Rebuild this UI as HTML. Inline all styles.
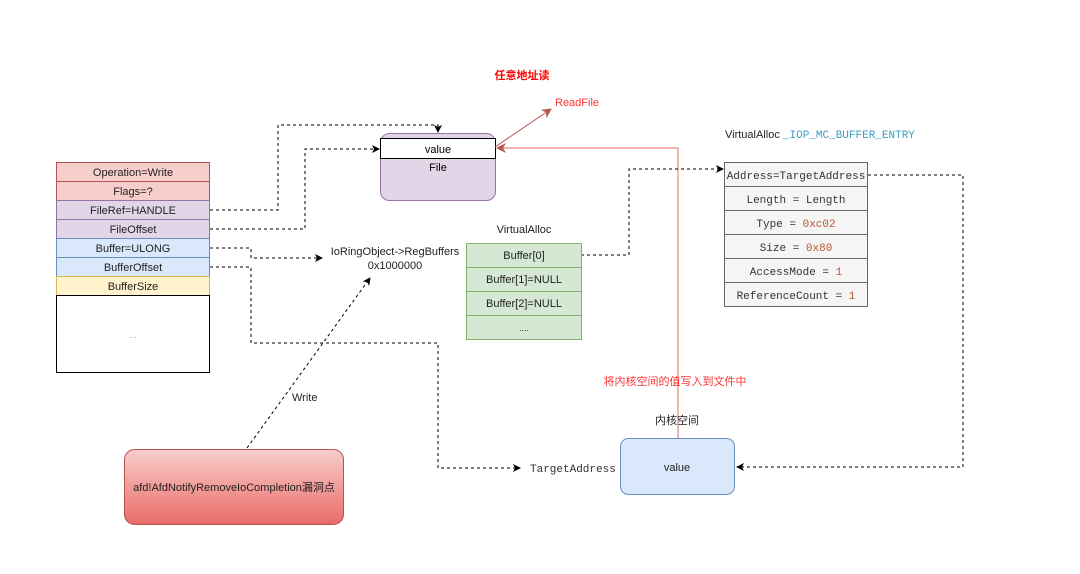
<!DOCTYPE html>
<html><head><meta charset="utf-8"><style>html,body{margin:0;padding:0;background:#fff;width:1080px;height:574px;overflow:hidden}</style></head>
<body>
<svg width="1080" height="574" viewBox="0 0 1080 574" xmlns="http://www.w3.org/2000/svg" font-family="Liberation Sans, Noto Sans CJK SC, sans-serif" font-size="11">
<defs>
<marker id="ab" markerWidth="8" markerHeight="8" refX="7" refY="4" orient="auto" markerUnits="userSpaceOnUse"><path d="M0,0 L8,4 L0,8 L2,4 Z" fill="#000"/></marker>
<marker id="ar" markerWidth="10" markerHeight="10" refX="9" refY="5" orient="auto" markerUnits="userSpaceOnUse"><path d="M0,0 L10,5 L0,10 L3,5 Z" fill="#b85450"/></marker>
<linearGradient id="rg" x1="0" y1="0" x2="0" y2="1"><stop offset="0" stop-color="#f8cecc"/><stop offset="1" stop-color="#ea6b66"/></linearGradient>
</defs>
<g stroke-width="1" text-anchor="middle" fill="#333">
<rect x="56.5" y="162.5" width="153" height="19" fill="#f8cecc" stroke="#b85450"/>
<rect x="56.5" y="181.5" width="153" height="19" fill="#f8cecc" stroke="#b85450"/>
<rect x="56.5" y="200.5" width="153" height="19" fill="#e1d5e7" stroke="#9673a6"/>
<rect x="56.5" y="219.5" width="153" height="19" fill="#e1d5e7" stroke="#9673a6"/>
<rect x="56.5" y="238.5" width="153" height="19" fill="#dae8fc" stroke="#6c8ebf"/>
<rect x="56.5" y="257.5" width="153" height="19" fill="#dae8fc" stroke="#6c8ebf"/>
<rect x="56.5" y="276.5" width="153" height="19" fill="#fff2cc" stroke="#d6b656"/>
<rect x="56.5" y="295.5" width="153" height="77" fill="#fff" stroke="#000"/>
</g>
<g text-anchor="middle" fill="#222">
<text x="133" y="176">Operation=Write</text>
<text x="133" y="195">Flags=?</text>
<text x="133" y="214">FileRef=HANDLE</text>
<text x="133" y="233">FileOffset</text>
<text x="133" y="252">Buffer=ULONG</text>
<text x="133" y="271">BufferOffset</text>
<text x="133" y="290">BufferSize</text>
<text x="133" y="338" font-size="8" fill="#888">...</text>
</g>
<rect x="380.5" y="133.5" width="115" height="67" rx="9" fill="#e1d5e7" stroke="#9673a6"/>
<rect x="380.5" y="138.5" width="115" height="20" fill="#fff" stroke="#000"/>
<text x="438" y="153" text-anchor="middle">value</text>
<text x="438" y="171" text-anchor="middle">File</text>
<polyline points="678,438 678,148 497,148" fill="none" stroke="#ea6b66" stroke-width="1" marker-end="url(#ar)"/>
<line x1="495" y1="147" x2="551" y2="109" stroke="#b85450" marker-end="url(#ar)"/>
<text x="555" y="106" fill="#ff3333" font-size="11">ReadFile</text>
<text x="522" y="79" fill="#ff0000" font-size="11" font-weight="bold" text-anchor="middle">任意地址读</text>
<g fill="none" stroke="#000" stroke-dasharray="3,3">
<polyline points="210,210 278,210 278,125 438,125 438,132" marker-end="url(#ab)"/>
<polyline points="210,229 305,229 305,149 379,149" marker-end="url(#ab)"/>
<polyline points="210,248 251,248 251,258 322,258" marker-end="url(#ab)"/>
<polyline points="210,267 251,267 251,343 438,343 438,468 520,468" marker-end="url(#ab)"/>
<line x1="247" y1="448" x2="370" y2="278" marker-end="url(#ab)"/>
<polyline points="581,255 629,255 629,169 723,169" marker-end="url(#ab)"/>
<polyline points="868,175 963,175 963,467 737,467" marker-end="url(#ab)"/>
</g>
<text x="395" y="255" text-anchor="middle" fill="#222">IoRingObject-&gt;RegBuffers</text>
<text x="395" y="269" text-anchor="middle" fill="#222">0x1000000</text>
<text x="292" y="401" fill="#222">Write</text>
<g fill="#d5e8d4" stroke="#82b366">
<rect x="466.5" y="243.5" width="115" height="24"/>
<rect x="466.5" y="267.5" width="115" height="24"/>
<rect x="466.5" y="291.5" width="115" height="24"/>
<rect x="466.5" y="315.5" width="115" height="24"/>
</g>
<g text-anchor="middle" fill="#222">
<text x="524" y="233">VirtualAlloc</text>
<text x="524" y="259">Buffer[0]</text>
<text x="524" y="283">Buffer[1]=NULL</text>
<text x="524" y="307">Buffer[2]=NULL</text>
<text x="524" y="331" font-size="9">....</text>
</g>
<text x="725" y="138" fill="#222">VirtualAlloc <tspan font-family="Liberation Mono, monospace" font-size="11" fill="#3a9ec2">_IOP_MC_BUFFER_ENTRY</tspan></text>
<g fill="#f5f5f5" stroke="#666">
<rect x="724.5" y="162.5" width="143" height="24"/>
<rect x="724.5" y="186.5" width="143" height="24"/>
<rect x="724.5" y="210.5" width="143" height="24"/>
<rect x="724.5" y="234.5" width="143" height="24"/>
<rect x="724.5" y="258.5" width="143" height="24"/>
<rect x="724.5" y="282.5" width="143" height="24"/>
</g>
<g text-anchor="middle" font-family="Liberation Mono, monospace" font-size="11" fill="#333">
<text x="796" y="179">Address=TargetAddress</text>
<text x="796" y="203">Length = Length</text>
<text x="796" y="227">Type = <tspan fill="#b5562a">0xc02</tspan></text>
<text x="796" y="251">Size = <tspan fill="#b5562a">0x80</tspan></text>
<text x="796" y="275">AccessMode = <tspan fill="#b5562a">1</tspan></text>
<text x="796" y="299">ReferenceCount = <tspan fill="#b5562a">1</tspan></text>
</g>
<text x="675" y="385" text-anchor="middle" fill="#ff3333">将内核空间的值写入到文件中</text>
<text x="677" y="424" text-anchor="middle" fill="#222">内核空间</text>
<rect x="620.5" y="438.5" width="114" height="56" rx="8" fill="#dae8fc" stroke="#6c8ebf"/>
<text x="677" y="471" text-anchor="middle" fill="#222">value</text>
<text x="530" y="472" font-family="Liberation Mono, monospace" font-size="11" fill="#333">TargetAddress</text>
<rect x="124.5" y="449.5" width="219" height="75" rx="10" fill="url(#rg)" stroke="#b85450"/>
<text x="234" y="491" text-anchor="middle" fill="#222">afd!AfdNotifyRemoveIoCompletion漏洞点</text>
</svg>
</body></html>
